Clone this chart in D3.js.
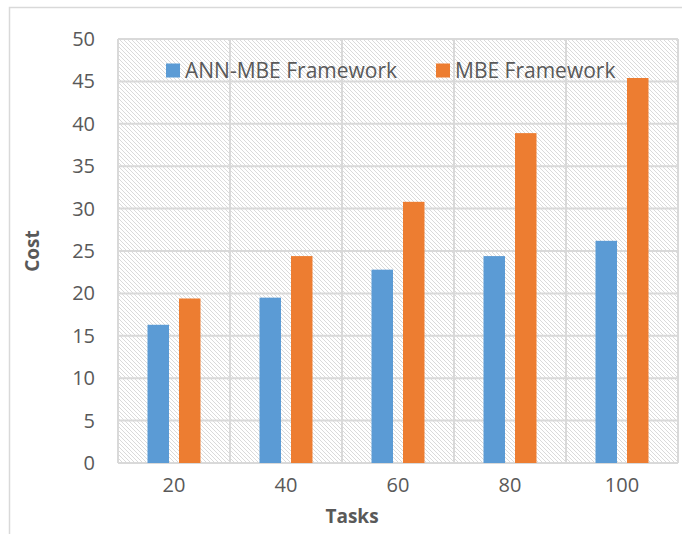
<!DOCTYPE html>
<html>
<head>
<meta charset="utf-8">
<script src="https://cdn.jsdelivr.net/npm/d3@7"></script>
<style>
  html, body { margin: 0; padding: 0; background: #fff; }
  svg { display: block; font-family: "Open Sans", sans-serif; }
</style>
</head>
<body>
<svg id="chart" width="682" height="534"></svg>
<script>
const tasks = ["20", "40", "60", "80", "100"];
const seriesNames = ["ANN-MBE Framework", "MBE Framework"];
const annMbe = [16.3, 19.5, 22.8, 24.4, 26.2];
const mbe = [19.4, 24.4, 30.8, 38.9, 45.4];
const yTicks = [0, 5, 10, 15, 20, 25, 30, 35, 40, 45, 50];
const colors = ["#5b9bd5", "#ed7d31"];

const svg = d3.select("#chart");
const plot = { left: 118, top: 39, right: 678, bottom: 463 };

// outer chart border (cut off on right / bottom)
svg.append("rect").attr("x", 9.5).attr("y", 7.5).attr("width", 700).attr("height", 600)
    .attr("fill", "#fff").attr("stroke", "#d9d9d9").attr("stroke-width", 1.5);

// hatch pattern for plot background
const defs = svg.append("defs");
const pat = defs.append("pattern").attr("id", "hatch").attr("patternUnits", "userSpaceOnUse")
    .attr("width", 4).attr("height", 4);
[0, 1, 2, 3].forEach(k => {
    pat.append("rect").attr("x", k).attr("y", k).attr("width", 1).attr("height", 1).attr("fill", "#dadada");
});

const x0 = d3.scaleBand().domain(tasks).range([plot.left, plot.right]).padding(0);
const x1 = d3.scaleBand().domain(seriesNames).range([0, x0.bandwidth()])
    .paddingInner(0.3175).paddingOuter(0.9365);
const y = d3.scaleLinear().domain([0, 50]).range([plot.bottom, plot.top]);

svg.append("rect").attr("x", plot.left).attr("y", plot.top)
    .attr("width", plot.right - plot.left).attr("height", plot.bottom - plot.top)
    .attr("fill", "url(#hatch)");

// gridlines
const grid = svg.append("g").attr("stroke", "#d9d9d9").attr("stroke-width", 2);
yTicks.forEach(t => {
    grid.append("line").attr("x1", plot.left).attr("x2", plot.right).attr("y1", y(t)).attr("y2", y(t));
});
tasks.forEach(t => {
    grid.append("line").attr("x1", x0(t)).attr("x2", x0(t)).attr("y1", plot.top).attr("y2", plot.bottom);
});
grid.append("line").attr("x1", plot.right).attr("x2", plot.right).attr("y1", plot.top).attr("y2", plot.bottom);

// bars
const rows = tasks.map((t, i) => ({ task: t, vals: [annMbe[i], mbe[i]] }));
const groups = svg.append("g").selectAll("g").data(rows).enter().append("g")
    .attr("transform", d => `translate(${x0(d.task)},0)`);
groups.selectAll("rect").data(d => d.vals.map((v, j) => ({ name: seriesNames[j], v: v, c: colors[j] })))
    .enter().append("rect")
    .attr("x", d => x1(d.name)).attr("width", x1.bandwidth())
    .attr("y", d => y(d.v)).attr("height", d => y(0) - y(d.v))
    .attr("fill", d => d.c);

// y axis labels
const yAxis = svg.append("g").attr("transform", `translate(${plot.left - 23},0)`)
    .call(d3.axisLeft(y).tickValues(yTicks).tickSize(0).tickPadding(0));
yAxis.select(".domain").remove();
yAxis.selectAll("text").attr("font-size", 20).attr("fill", "#595959").attr("font-family", "Open Sans");

// x axis labels
const xAxis = svg.append("g").attr("transform", `translate(0,${plot.bottom + 15})`)
    .call(d3.axisBottom(x0).tickSize(0).tickPadding(0));
xAxis.select(".domain").remove();
xAxis.selectAll("text").attr("font-size", 20).attr("fill", "#595959").attr("font-family", "Open Sans");

// axis titles
svg.append("text").attr("x", 352).attr("y", 523).attr("text-anchor", "middle")
    .attr("font-size", 19).attr("font-weight", "bold").attr("fill", "#595959").text("Tasks");
svg.append("text").attr("transform", `translate(39,${(plot.top + plot.bottom) / 2}) rotate(-90)`)
    .attr("text-anchor", "middle").attr("font-size", 19).attr("font-weight", "bold")
    .attr("fill", "#595959").text("Cost");

// legend
const legendX = [166, 436];
const legend = svg.append("g");
seriesNames.forEach((name, j) => {
    legend.append("rect").attr("x", legendX[j]).attr("y", 63.5).attr("width", 14).attr("height", 14).attr("fill", colors[j]);
    legend.append("text").attr("x", legendX[j] + 19).attr("y", 78).attr("font-size", 21)
        .attr("fill", "#595959").text(name);
});
</script>
</body>
</html>
